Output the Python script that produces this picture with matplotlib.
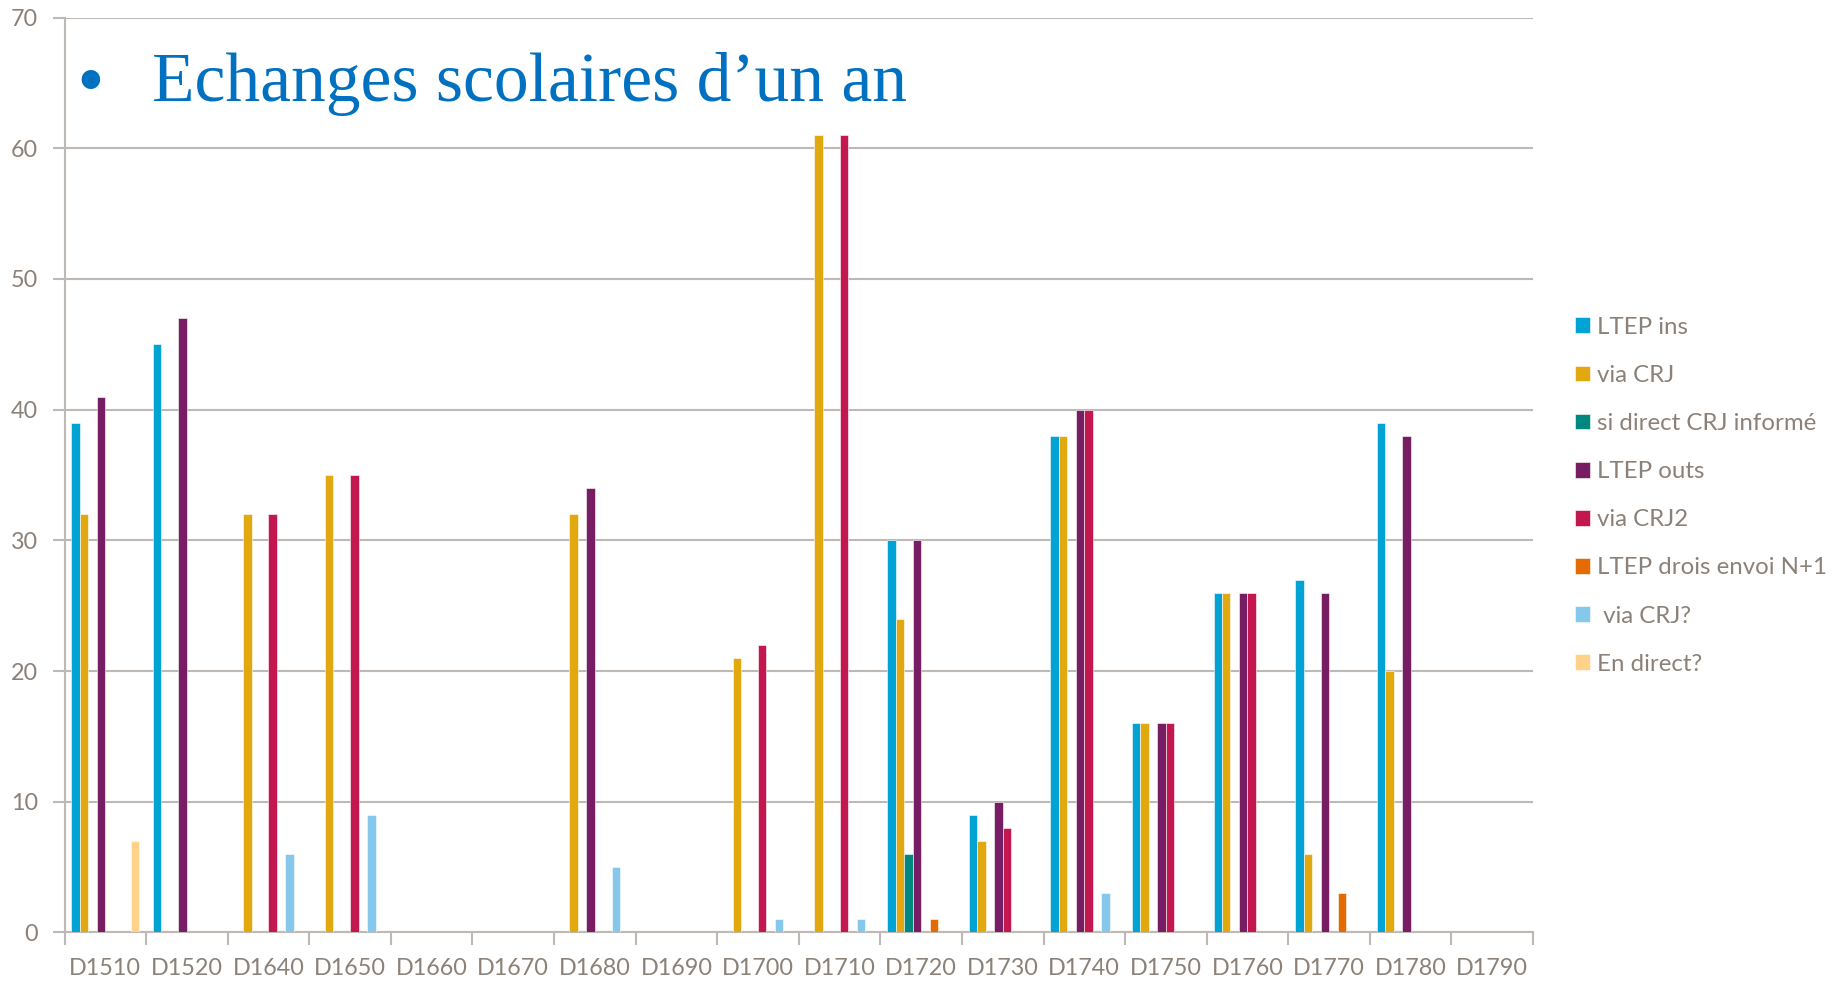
import numpy as np
import matplotlib.pyplot as plt

# categories and series values
categories = ['D1510', 'D1520', 'D1640', 'D1650', 'D1660', 'D1670', 'D1680', 'D1690', 'D1700',
              'D1710', 'D1720', 'D1730', 'D1740', 'D1750', 'D1760', 'D1770', 'D1780', 'D1790']

ltep_ins      = [39, 45, 0, 0, 0, 0, 0, 0, 0, 0, 30, 9, 38, 16, 26, 27, 39, 0]
via_crj       = [32, 0, 32, 35, 0, 0, 32, 0, 21, 61, 24, 7, 38, 16, 26, 6, 20, 0]
si_direct     = [0, 0, 0, 0, 0, 0, 0, 0, 0, 0, 6, 0, 0, 0, 0, 0, 0, 0]
ltep_outs     = [41, 47, 0, 0, 0, 0, 34, 0, 0, 0, 30, 10, 40, 16, 26, 26, 38, 0]
via_crj2      = [0, 0, 32, 35, 0, 0, 0, 0, 22, 61, 0, 8, 40, 16, 26, 0, 0, 0]
ltep_n1       = [0, 0, 0, 0, 0, 0, 0, 0, 0, 0, 1, 0, 0, 0, 0, 3, 0, 0]
via_crj_q     = [0, 0, 6, 9, 0, 0, 5, 0, 1, 1, 0, 0, 3, 0, 0, 0, 0, 0]
en_direct     = [7, 0, 0, 0, 0, 0, 0, 0, 0, 0, 0, 0, 0, 0, 0, 0, 0, 0]

series_names = ['LTEP ins', 'via CRJ', 'si direct CRJ informé', 'LTEP outs', 'via CRJ2',
                'LTEP drois envoi N+1', ' via CRJ?', 'En direct?']
series = [ltep_ins, via_crj, si_direct, ltep_outs, via_crj2, ltep_n1, via_crj_q, en_direct]
colors = ['#00A3D3', '#E1A90F', '#00877F', '#771D63', '#C2184F', '#E36B00', '#86C8EC', '#FFD28A']

grid_col = '#BEB9B4'
text_col = '#8B8178'

plt.rcParams['font.family'] = ['Lato', 'DejaVu Sans']

fig = plt.figure(figsize=(18.39, 9.81), dpi=100)
ax = fig.add_axes([0.0351, 0.0495, 0.7985, 0.9326])

x = np.arange(len(categories))
w = 0.104
for i, (vals, name, c) in enumerate(zip(series, series_names, colors)):
    ax.bar(x + (i - 3.5) * w, vals, width=w, color=c, label=name,
           edgecolor='white', linewidth=0.4, zorder=3)

ax.set_xlim(-0.5, len(categories) - 0.5)
ax.set_ylim(0, 70)
ax.set_yticks(range(0, 71, 10))
ax.yaxis.grid(True, color=grid_col, linewidth=1.5, zorder=0)

ax.set_xticks(x)
ax.set_xticklabels(categories)
ax.set_xticks(np.arange(-0.5, len(categories), 1), minor=True)
ax.tick_params(axis='x', which='major', length=0, pad=18.5, labelsize=16.8, labelcolor=text_col)
ax.tick_params(axis='x', which='minor', length=9, width=1.5, color=grid_col, direction='out')
ax.tick_params(axis='y', length=9, width=1.5, color=grid_col, pad=10,
               labelsize=16.8, labelcolor=text_col)

for s in ['top', 'right']:
    ax.spines[s].set_visible(False)
for s in ['left', 'bottom']:
    ax.spines[s].set_color(grid_col)
    ax.spines[s].set_linewidth(1.5)

leg = ax.legend(loc='upper left', bbox_to_anchor=(0.851, 0.687), bbox_transform=fig.transFigure,
                frameon=False, fontsize=17.3, handlelength=0.63, handleheight=0.63,
                handletextpad=0.3, labelspacing=1.13, borderaxespad=0)
for t in leg.get_texts():
    t.set_color(text_col)

fig.text(0.049, 0.912, '\u2022', fontsize=46, color='#0070C0', va='center', ha='center',
         family='DejaVu Sans')
fig.text(0.0825, 0.897, 'Echanges scolaires d\u2019un an', fontsize=50, color='#0070C0',
         family='Liberation Serif', va='baseline')

fig.savefig('out.png', dpi=100)
